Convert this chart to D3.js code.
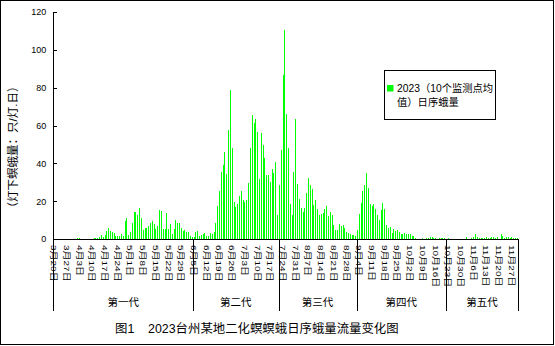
<!DOCTYPE html>
<html>
<head>
<meta charset="utf-8">
<script src="https://cdn.jsdelivr.net/npm/d3@7"></script>
<style>
  html, body { margin: 0; padding: 0; background: #fff; }
  svg { display: block; font-family: "Liberation Sans", "Noto Sans CJK SC", sans-serif; }
</style>
</head>
<body>
<div id="chart"></div>
<script>
// daily moth counts (avg of 10 light traps), one value per day from 3/20
const startDate = new Date(2023, 2, 20);
const dailyCounts = [
  0, 0, 0, 0, 0, 0, 0,
  0, 0, 0, 0, 0, 0, 0.5,
  0.5, 0, 0, 0, 0, 0, 0,
  0, 0.5, 0.5, 0.6, 1.0, 2.1, 1.2,
  2.3, 4.2, 5.7, 4.4, 3.9, 3.0, 1.8,
  1.4, 1.7, 2.7, 1.8, 9.6, 11.0, 2.1,
  3.7, 8.4, 14.2, 14.2, 12.6, 16.3, 11.0,
  4.7, 5.8, 5.8, 6.8, 8.4, 9.6, 7.8,
  5.4, 6.9, 15.3, 14.9, 5.4, 5.4, 13.7,
  5.4, 7.8, 2.6, 5.3, 10.0, 8.4, 8.4,
  5.6, 4.2, 4.7, 3.7, 3.7, 1.6, 0.9,
  1.1, 3.7, 4.2, 1.6, 2.1, 2.5, 3.0,
  1.6, 1.6, 3.0, 2.6, 3.7, 8.4, 17.4,
  25.3, 35.3, 38.9, 45.8, 34.2, 57.4, 78.9,
  47.9, 19.5, 16.8, 18.4, 22.6, 25.3, 20.5,
  19.5, 20.5, 29.5, 47.9, 65.8, 61.1, 63.7,
  56.3, 31.6, 55.8, 49.5, 42.6, 33.7, 33.7,
  30.0, 36.8, 34.7, 40.5, 12.6, 28.4, 46.8,
  86.8, 110.5, 66.3, 47.9, 18.4, 12.6, 35.3,
  63.2, 28.9, 21.1, 16.3, 14.2, 16.3, 24.2,
  32.1, 28.4, 26.3, 17.9, 20.5, 15.8, 12.6,
  13.2, 13.7, 15.8, 17.4, 12.1, 14.2, 12.6,
  7.4, 4.7, 4.7, 7.9, 6.8, 7.4, 5.8,
  3.7, 3.2, 2.6, 2.1, 2.1, 1.6, 4.7,
  13.2, 18.9, 25.3, 28.4, 34.7, 26.8, 18.4,
  17.4, 18.4, 15.8, 12.6, 10.0, 15.3, 18.9,
  15.8, 7.4, 5.8, 6.3, 3.2, 5.3, 4.2,
  4.7, 3.7, 2.6, 2.6, 3.2, 2.6, 2.6,
  2.6, 1.6, 1.6, 0.5, 0, 0, 0,
  0.5, 0, 0.5, 0.5, 1.0, 1.0, 0.5,
  0.5, 0, 0.5, 0.5, 0.5, 0.5, 0,
  0.5, 0, 0, 0, 0, 0, 0,
  0, 0, 0, 1.0, 0, 0, 0.5,
  1.0, 2.6, 1.0, 0.5, 0.5, 0.5, 0.5,
  1.0, 0.5, 0.5, 1.0, 1.0, 0.5, 1.0,
  0, 2.6, 1.6, 0.5, 1.0, 1.0, 0.5,
  1.0, 0.5, 0.5, 0.5
];

const weekLabels = [
  "3月20日", "3月27日", "4月3日", "4月10日", "4月17日", "4月24日",
  "5月1日", "5月8日", "5月15日", "5月22日", "5月29日", "6月5日",
  "6月12日", "6月19日", "6月26日", "7月3日", "7月10日", "7月17日",
  "7月24日", "7月31日", "8月7日", "8月14日", "8月21日", "8月28日",
  "9月4日", "9月11日", "9月18日", "9月25日", "10月2日", "10月9日",
  "10月16日", "10月23日", "10月30日", "11月6日", "11月13日", "11月20日",
  "11月27日"
];

const generationNames = ["第一代", "第二代", "第三代", "第四代", "第五代"];
// first day of each generation, last entry closes the axis
const generationBounds = ["3月20日", "6月5日", "7月22日", "9月3日", "10月22日", "12月1日"];

const yTicks = [0, 20, 40, 60, 80, 100, 120];
const yTitle = "（灯下螟蛾量：只/灯.日）";
const legendLines = ["2023（10个监测点均", "值）日序蛾量"];
const chartTitle = "图1    2023台州某地二化螟螟蛾日序蛾量流量变化图";

const width = 555, height = 346;
const plot = { left: 53.3, right: 518.3, top: 12, bottom: 239 };

const parseLabel = s => {
  const m = s.match(/(\d+)月(\d+)日/);
  return new Date(2023, +m[1] - 1, +m[2]);
};
const dayIndex = d => d3.timeDay.count(startDate, d);

const days = dailyCounts.map((v, i) => ({ i, value: v }));

const x = d3.scaleBand()
  .domain(days.map(d => d.i))
  .range([plot.left, plot.right])
  .paddingInner(0.45)
  .paddingOuter(0.225);

// left edge of a day's slot (works past the last day too)
const slotX = i => plot.left + x.step() * i;

const y = d3.scaleLinear()
  .domain([0, 120])
  .range([plot.bottom, plot.top]);

const svg = d3.select('#chart').append('svg')
  .attr('width', width)
  .attr('height', height);

// outer frame
svg.append('rect')
  .attr('x', 0.5).attr('y', 0.5)
  .attr('width', width - 2).attr('height', height - 2)
  .attr('fill', '#fff').attr('stroke', '#000');

// bars
svg.append('g')
  .selectAll('rect')
  .data(days)
  .join('rect')
    .attr('x', d => x(d.i))
    .attr('y', d => y(d.value))
    .attr('width', x.bandwidth())
    .attr('height', d => y(0) - y(d.value))
    .attr('fill', '#00ff00')
    .attr('shape-rendering', 'crispEdges');

// y axis, ticks pointing inward
const yAxis = svg.append('g')
  .attr('transform', `translate(${plot.left},0)`)
  .call(d3.axisLeft(y).tickValues(yTicks).tickSizeInner(-4).tickSizeOuter(0).tickPadding(7));
yAxis.selectAll('text').attr('font-size', 9).attr('fill', '#000').style('font-family', 'Liberation Sans');
yAxis.selectAll('line, path').attr('stroke', '#000').attr('shape-rendering', 'crispEdges');

// x axis line
const xAxis = svg.append('g')
  .attr('transform', `translate(0,${plot.bottom})`)
  .call(d3.axisBottom(x).tickValues([]).tickSizeOuter(0));
xAxis.select('path').attr('stroke', '#000').attr('shape-rendering', 'crispEdges');

// weekly date labels, reading top to bottom
svg.append('g')
  .selectAll('text')
  .data(weekLabels)
  .join('text')
    .attr('transform', d => `translate(${slotX(dayIndex(parseLabel(d))) + 0.5},245) rotate(90) scale(1,0.8)`)
    .attr('dominant-baseline', 'central')
    .attr('font-size', 10)
    .attr('fill', '#000')
    .text(d => d);

// generation separators and names
const bounds = generationBounds.map(s => slotX(dayIndex(parseLabel(s))));
svg.append('g')
  .selectAll('line')
  .data(bounds)
  .join('line')
    .attr('x1', d => Math.round(d) + 0.5).attr('x2', d => Math.round(d) + 0.5)
    .attr('y1', plot.bottom).attr('y2', 311)
    .attr('stroke', '#000');

svg.append('g')
  .selectAll('text')
  .data(generationNames)
  .join('text')
    .attr('x', (d, i) => (bounds[i] + bounds[i + 1]) / 2)
    .attr('y', 302)
    .attr('text-anchor', 'middle')
    .attr('dominant-baseline', 'central')
    .attr('font-size', 10.5)
    .attr('fill', '#000')
    .text(d => d);

// y axis title
svg.append('text')
  .attr('transform', 'translate(13,147) rotate(-90)')
  .attr('text-anchor', 'middle')
  .attr('dominant-baseline', 'central')
  .attr('font-size', 11.5)
  .attr('fill', '#000')
  .text(yTitle);

// legend
const legend = svg.append('g');
legend.append('rect')
  .attr('x', 384.5).attr('y', 70.5)
  .attr('width', 111).attr('height', 49)
  .attr('fill', '#fff').attr('stroke', '#000');
legend.append('rect')
  .attr('x', 387).attr('y', 85)
  .attr('width', 6.5).attr('height', 6.5)
  .attr('fill', '#00ff00');
legend.selectAll('text.item')
  .data(legendLines)
  .join('text')
    .attr('class', 'item')
    .attr('x', 397)
    .attr('y', (d, i) => 92 + i * 14)
    .attr('font-size', 10.3)
    .attr('fill', '#000')
    .text(d => d);

// chart caption
svg.append('text')
  .attr('x', 115)
  .attr('y', 333)
  .attr('font-size', 12.4)
  .attr('fill', '#000')
  .style('white-space', 'pre')
  .text(chartTitle);
</script>
</body>
</html>
